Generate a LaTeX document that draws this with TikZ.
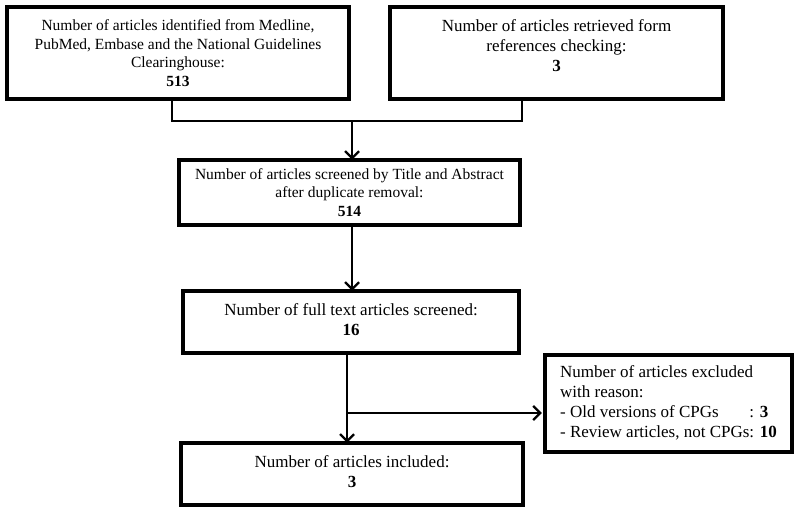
\documentclass[tikz,border=0pt]{standalone}
\usepackage{fontspec}
\setmainfont{Liberation Serif}
\usetikzlibrary{arrows.meta}
\tikzset{
  box/.style={draw, line width=3.5pt, rectangle, inner sep=0pt, align=center},
  smallfont/.style={font=\fontsize{15.5}{18.5}\selectfont},
  bigfont/.style={font=\fontsize{17}{20}\selectfont},
  conn/.style={line width=2.3pt},
  arr/.style={line width=2.3pt, -{Straight Barb[length=7pt,width=14pt,line width=2.3pt]}}
}
\begin{document}
\begin{tikzpicture}[x=1pt,y=-1pt]
\useasboundingbox (0,0) rectangle (800,516);
\node[box, smallfont, minimum width=342pt, minimum height=92pt] (b1) at (178,53)
  {Number of articles identified from Medline,\\PubMed, Embase and the National Guidelines\\Clearinghouse:\\\textbf{513}};
\node[box, bigfont, minimum width=333pt, minimum height=92pt] (b2) at (556.5,53)
  {Number of articles retrieved form\\references checking:\\\textbf{3}\\[-5pt]\mbox{}};
\node[box, smallfont, minimum width=341pt, minimum height=65pt] (b3) at (349.5,192.5)
  {Number of articles screened by Title and Abstract\\after duplicate removal:\\\textbf{514}};
\node[box, bigfont, minimum width=336pt, minimum height=62pt] (b4) at (351,322)
  {Number of full text articles screened:\\\textbf{16}\\[-15pt]\mbox{}};
\node[box, bigfont, minimum width=342pt, minimum height=62pt] (b5) at (352,474)
  {Number of articles included:\\\textbf{3}\\[-15pt]\mbox{}};
\node[box, bigfont, minimum width=247pt, minimum height=97pt, align=left] (b6) at (668.5,403.5)
  {\begin{tabular}{@{}l@{}l@{}}
   \multicolumn{2}{@{}l@{}}{Number of articles excluded}\\
   \multicolumn{2}{@{}l@{}}{with reason:}\\
   - Old versions of CPGs & : \textbf{3}\\
   - Review articles, not CPGs & : \textbf{10}
   \end{tabular}};
\coordinate (j1) at (172,121);
\coordinate (j2) at (522,121);
\coordinate (jm) at (352,121);
\coordinate (m2) at (352,240);
\coordinate (k) at (347,413);
\draw[conn] (b1.south -| j1) -- (j1) -- (j2) -- (b2.south -| j2);
\draw[arr] (jm) -- ([yshift=-1.5pt]b3.north -| jm);
\draw[arr] (b3.south -| m2) -- ([yshift=-1.5pt]b4.north -| m2);
\draw[conn] (b4.south -| k) -- (k);
\draw[arr] (k) -- ([yshift=-1.5pt]b5.north -| k);
\draw[arr] (k) -- ([xshift=-1.5pt]b6.west |- k);
\end{tikzpicture}
\end{document}
